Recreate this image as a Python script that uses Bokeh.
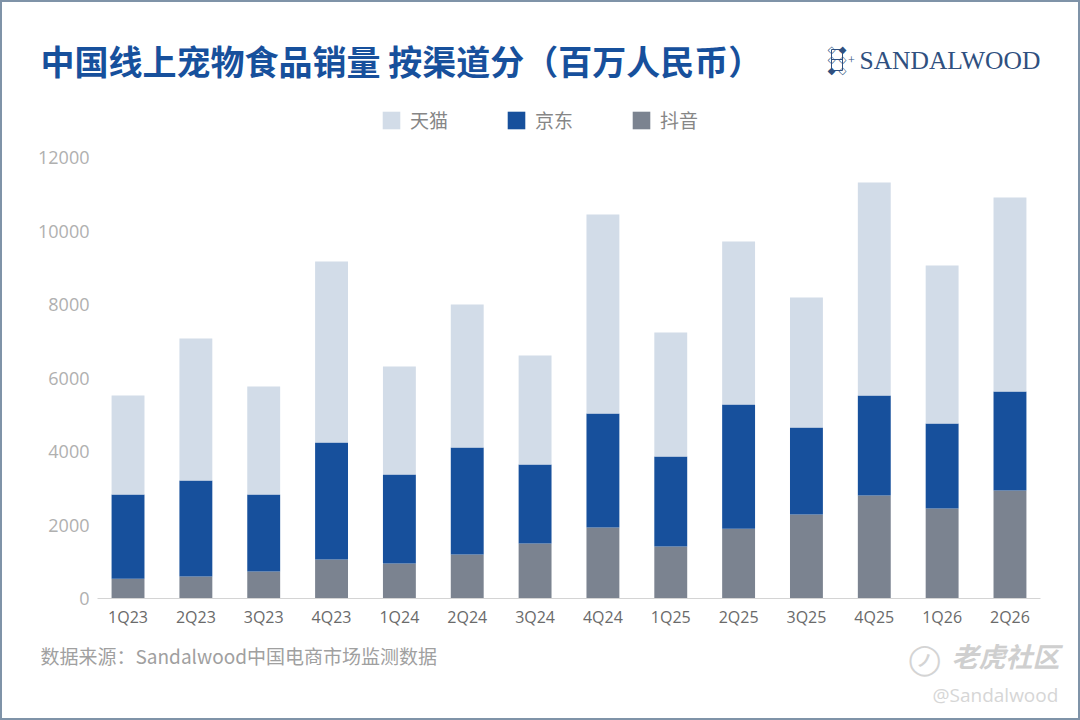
from bokeh.plotting import figure
from bokeh.layouts import column
from bokeh.models import Label, BoxAnnotation, Legend, LegendItem, FactorRange, Range1d, FixedTicker
from bokeh.embed import file_html
from bokeh.resources import INLINE

quarters = ["1Q23","2Q23","3Q23","4Q23","1Q24","2Q24","3Q24","4Q24","1Q25","2Q25","3Q25","4Q25","1Q26","2Q26"]
douyin = [540,600,735,1060,950,1200,1500,1930,1415,1900,2285,2800,2450,2940]
jd = [2290,2610,2095,3185,2425,2910,2145,3105,2450,3380,2370,2725,2310,2690]
tmall = [2695,3865,2940,4925,2940,3890,2965,5415,3375,4435,3535,5795,4300,5280]
y_ticks = [0,2000,4000,6000,8000,10000,12000]
series_names = ["天猫", "京东", "抖音"]
series_colors = ["#d2dce8", "#17509c", "#7b8390"]

B = 2                       # page frame thickness
W, H = 1080, 720
HEAD_END, FOOT_START = 145, 635
FL, FR, FT, FB = 97, 1040, 157, 598  # plot frame edges in page pixels
CJK = "Noto Sans CJK SC"
NAVY = "#17509c"
IW = W - 2*B

p = figure(width=IW, height=FOOT_START-HEAD_END, output_backend="svg", toolbar_location=None,
           x_range=FactorRange(factors=quarters, range_padding=-0.05, range_padding_units="absolute"),
           y_range=Range1d(0, 12000), frame_align=False,
           min_border_left=FL-B, min_border_right=W-B-FR,
           min_border_top=FT-HEAD_END, min_border_bottom=FOOT_START-FB)
p.outline_line_color = None
p.grid.visible = False
p.border_fill_color = None
p.background_fill_color = None

src = dict(q=quarters, douyin=douyin, jd=jd, tmall=tmall)
rs = p.vbar_stack(["douyin","jd","tmall"], x="q", width=0.485, source=src,
                  color=series_colors[::-1], line_color=None)

ax = p.xaxis[0]
ax.axis_line_color = "#d4d4d4"
ax.major_tick_line_color = None
ax.minor_tick_line_color = None
ax.major_label_text_font = "Open Sans"
ax.major_label_text_font_size = "16px"
ax.major_label_text_color = "#6a6a6a"
ax.major_label_standoff = 1

ay = p.yaxis[0]
ay.ticker = FixedTicker(ticks=y_ticks)
ay.axis_line_color = None
ay.major_tick_line_color = None
ay.minor_tick_line_color = None
ay.major_label_text_font = "Open Sans"
ay.major_label_text_font_size = "18px"
ay.major_label_text_color = "#b0b0b0"
ay.major_label_standoff = 2


def panel(y0, y1):
    f = figure(width=IW, height=y1-y0, output_backend="svg", toolbar_location=None,
               x_range=Range1d(0, 1), y_range=Range1d(0, 1), frame_align=False,
               x_axis_location=None, y_axis_location=None,
               min_border=0, min_border_left=0, min_border_right=0,
               min_border_top=0, min_border_bottom=0)
    f.grid.visible = False
    f.outline_line_color = None
    f.border_fill_color = None
    f.background_fill_color = None
    return f


def lab(f, y1, text, x, y, size, color, font=CJK, style="normal", align="left"):
    f.add_layout(Label(x=x-B, y=y1-y, x_units="screen", y_units="screen", text=text,
                       text_font=font, text_font_size=f"{size}px", text_color=color,
                       text_font_style=style, text_align=align, text_baseline="middle"))


def box(f, y1, x0, y0, x2, y2, color):
    f.add_layout(BoxAnnotation(left=x0-B, right=x2-B, top=y1-y0, bottom=y1-y2,
                               left_units="screen", right_units="screen",
                               top_units="screen", bottom_units="screen",
                               fill_color=color, fill_alpha=1, line_color=None, editable=False))


head = panel(B, HEAD_END)
foot = panel(FOOT_START, H-B)

# legend lives in the header panel; keys carry the series colours (zero-size, off-range bars)
keys = [head.vbar(x=[0.5], bottom=[-1], top=[-1], width=0.1, color=c, line_color=None) for c in series_colors]
legend = Legend(items=[LegendItem(label=n, renderers=[k]) for n, k in zip(series_names, keys)],
                orientation="horizontal", location=(378, 12),
                glyph_width=22, glyph_height=22, label_standoff=8, spacing=57,
                label_text_font=CJK, label_text_font_size="19px", label_text_color="#868686",
                background_fill_alpha=0, border_line_color=None,
                padding=4, margin=0)
head.add_layout(legend, "center")

lab(head, HEAD_END, "中国线上宠物食品销量 按渠道分（百万人民币）", 40, 60, 34, NAVY, style="bold")

# logo
LOGO = "#2f5080"
lab(head, HEAD_END, "SANDALWOOD", 859, 60, 25.5, LOGO, font="Liberation Serif")
for lx in (831, 842):
    box(head, HEAD_END, lx-0.5, 49, lx+0.5, 70, LOGO)
for ly in (49, 59, 70):
    box(head, HEAD_END, 831, ly-0.5, 842, ly+0.5, LOGO)
for t, lx, ly in [("◇",831,49),("◆",842,49),("◇",831,59),("◇",842,59),("◆",831,70),("◇",842,70)]:
    lab(head, HEAD_END, t, lx, ly, 10, LOGO, font="DejaVu Sans", align="center")
lab(head, HEAD_END, "+", 851, 59, 12, LOGO, font="Liberation Serif", align="center")

lab(foot, H-B, "数据来源：Sandalwood中国电商市场监测数据", 40, 655, 19, "#a0a0a0")

# watermark
lab(foot, H-B, "◯", 924, 658, 30, "#d4d4d4", font="DejaVu Sans", align="center")
lab(foot, H-B, "ノ", 924, 658, 16, "#d4d4d4", style="bold", align="center")
lab(foot, H-B, "老虎社区", 951, 655, 27, "#cfcfcf", style="bold italic")
lab(foot, H-B, "@Sandalwood", 932, 694, 19, "#d6d6d6", font="Open Sans")

page = column(head, p, foot, width=W, height=H, spacing=0,
              styles={"border": f"{B}px solid #7f93a8", "box-sizing": "border-box", "background": "white"})

open("out.html", "w").write(file_html(page, INLINE))
